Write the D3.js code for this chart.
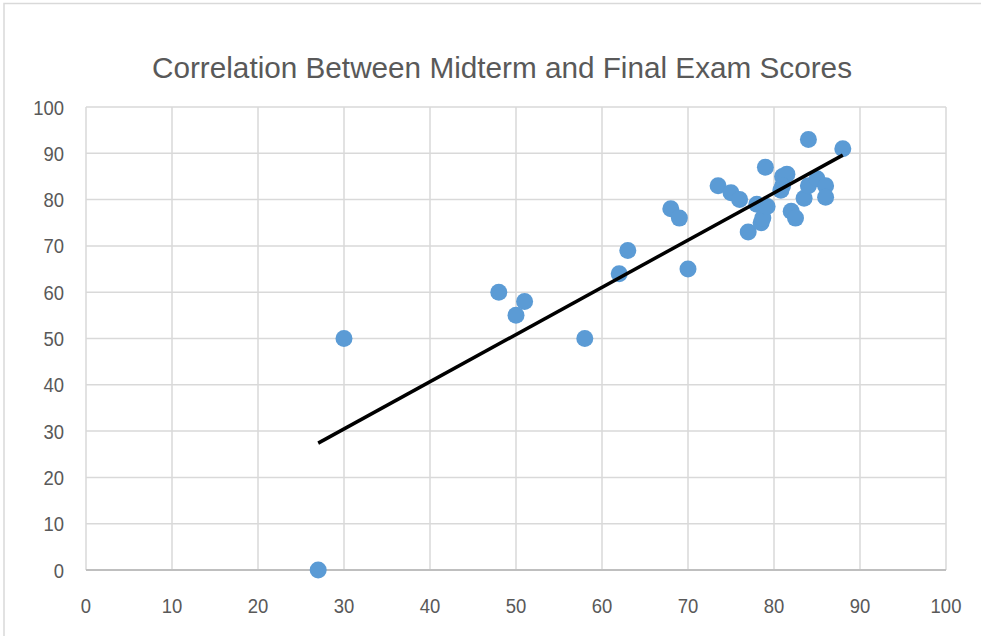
<!DOCTYPE html>
<html><head><meta charset="utf-8">
<script src="https://cdn.jsdelivr.net/npm/d3@7"></script>
<style>
body{margin:0;background:#fff;}
svg{display:block;}
text{font-family:"Liberation Sans",Arial,sans-serif;fill:#595959;}
</style></head>
<body><svg id="c" width="981" height="636"></svg>
<script>
const title = "Correlation Between Midterm and Final Exam Scores";
const midterm = [27,30,48,50,51,58,62,63,68,69,70,73.5,75,76,77,78,78.5,78.7,79,79.2,81,81.5,81,80.8,82,82.5,83.5,84,84,85,86,86,88];
const final   = [0,50,60,55,58,50,64,69,78,76,65,83,81.5,80,73,79,75,76,87,78.5,85,85.5,83,82,77.5,76,80.3,83,93,84.5,83,80.5,91];
const trendX = [27, 88];
const trendY = [27.4, 89.6];
const xTicks = [0,10,20,30,40,50,60,70,80,90,100];
const yTicks = [0,10,20,30,40,50,60,70,80,90,100];

const svg = d3.select("#c");
svg.append("rect").attr("x",4).attr("y",3.5).attr("width",990).attr("height",640)
  .attr("fill","none").attr("stroke","#d9d9d9").attr("stroke-width",1.5);

const x = d3.scaleLinear().domain([0,100]).range([86,946]);
const y = d3.scaleLinear().domain([0,100]).range([570,107]);

svg.append("text").attr("x",502).attr("y",78).attr("text-anchor","middle")
  .attr("textLength",700).attr("lengthAdjust","spacingAndGlyphs")
  .style("font-size","30px").text(title);

const g = svg.append("g");
g.selectAll(".vx").data(xTicks).join("line")
  .attr("x1",d=>x(d)).attr("x2",d=>x(d)).attr("y1",y(100)).attr("y2",y(0))
  .attr("stroke","#d9d9d9").attr("stroke-width",1.5);
g.selectAll(".hy").data(yTicks.filter(d=>d>0)).join("line")
  .attr("x1",x(0)).attr("x2",x(100)).attr("y1",d=>y(d)).attr("y2",d=>y(d))
  .attr("stroke","#d9d9d9").attr("stroke-width",1.5);
svg.append("line").attr("x1",x(0)).attr("x2",x(100)).attr("y1",y(0)).attr("y2",y(0))
  .attr("stroke","#bfbfbf").attr("stroke-width",2);

svg.append("g").selectAll("text").data(xTicks).join("text")
  .attr("transform",d=>`translate(${x(d)},613) scale(0.88,1)`).attr("text-anchor","middle")
  .style("font-size","21px").text(d=>d);
svg.append("g").selectAll("text").data(yTicks).join("text")
  .attr("transform",d=>`translate(64,${y(d)+7.5}) scale(0.88,1)`).attr("text-anchor","end")
  .style("font-size","21px").text(d=>d);

svg.append("g").selectAll("circle").data(midterm.map((m,i)=>[m,final[i]])).join("circle")
  .attr("cx",d=>x(d[0])).attr("cy",d=>y(d[1])).attr("r",8.5)
  .attr("fill","#5B9BD5");

svg.append("line").attr("x1",x(trendX[0])).attr("y1",y(trendY[0]))
  .attr("x2",x(trendX[1])).attr("y2",y(trendY[1]))
  .attr("stroke","#000").attr("stroke-width",3.5);
</script></body></html>
